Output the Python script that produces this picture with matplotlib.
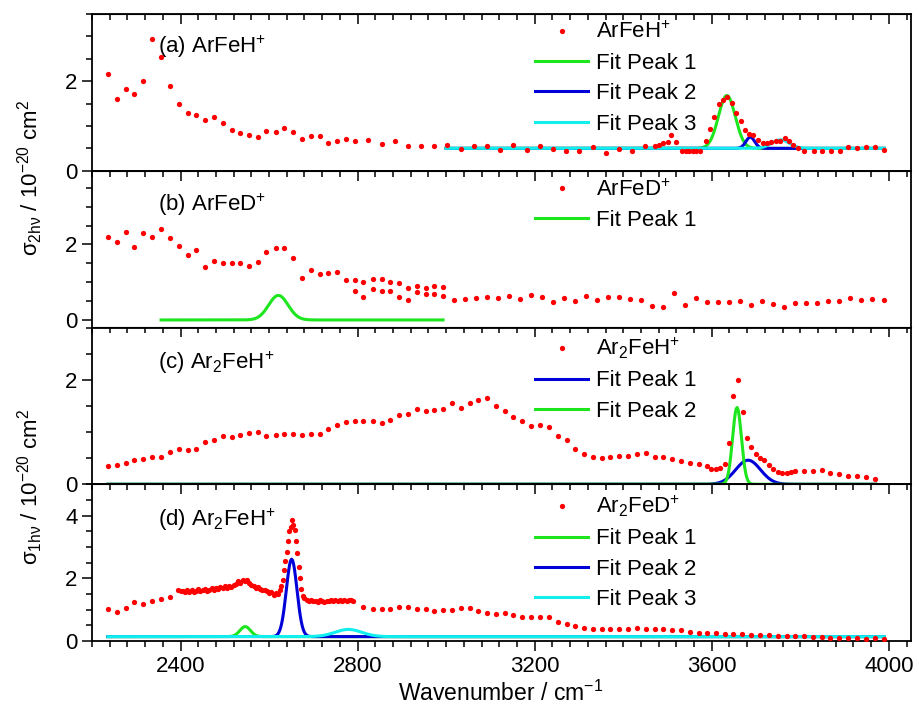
import numpy as np
import matplotlib
matplotlib.use('Agg')
import matplotlib.pyplot as plt
from matplotlib.ticker import MultipleLocator

plt.rcParams['font.family'] = ['Liberation Sans', 'DejaVu Sans']
plt.rcParams['mathtext.fontset'] = 'custom'
plt.rcParams['mathtext.rm'] = 'Liberation Sans'
plt.rcParams['mathtext.it'] = 'Liberation Sans:italic'
plt.rcParams['font.size'] = 16

RED = '#ff0000'
GREEN = '#1ee61e'
BLUE = '#0000d8'
CYAN = '#11eeee'

# (a) ArFeH+  two-photon cross section
a_wn = [2236, 2257, 2277, 2296, 2316, 2336, 2356, 2376, 2396, 2417, 2436, 2456,
        2475, 2495, 2516, 2535, 2555, 2575, 2594, 2615, 2634, 2654, 2675, 2694,
        2714, 2734, 2754, 2774, 2794, 2824, 2854, 2884, 2914, 2944, 2973, 3003,
        3033, 3063, 3093, 3122, 3152, 3182, 3212, 3242, 3271, 3301, 3331, 3361,
        3390, 3420, 3450, 3471, 3481, 3490, 3500, 3509, 3520, 3533, 3541, 3549,
        3557, 3565, 3573, 3586, 3595, 3605, 3616, 3625, 3635, 3646, 3655, 3665,
        3676, 3685, 3694, 3704, 3715, 3724, 3734, 3745, 3754, 3766, 3775, 3784,
        3794, 3809, 3830, 3848, 3869, 3889, 3908, 3929, 3948, 3968, 3988]
a_sig = [2.15, 1.60, 1.83, 1.71, 2.00, 2.94, 2.55, 1.90, 1.48, 1.30, 1.25, 1.14,
         1.21, 1.07, 0.92, 0.84, 0.79, 0.76, 0.88, 0.86, 0.96, 0.86, 0.70, 0.78,
         0.77, 0.61, 0.67, 0.72, 0.67, 0.68, 0.60, 0.67, 0.56, 0.56, 0.55, 0.58,
         0.49, 0.56, 0.56, 0.47, 0.58, 0.46, 0.55, 0.49, 0.43, 0.43, 0.52, 0.40,
         0.49, 0.45, 0.55, 0.55, 0.58, 0.61, 0.65, 0.79, 0.64, 0.44, 0.43, 0.43,
         0.43, 0.44, 0.45, 0.67, 0.94, 1.20, 1.50, 1.59, 1.65, 1.52, 1.30, 1.10,
         0.92, 0.83, 0.79, 0.68, 0.62, 0.63, 0.65, 0.66, 0.66, 0.73, 0.66, 0.58,
         0.50, 0.45, 0.45, 0.43, 0.45, 0.43, 0.52, 0.51, 0.52, 0.52, 0.46]

# (b) ArFeD+
b_wn = [2236, 2257, 2277, 2296, 2316, 2336, 2356, 2376, 2396, 2417, 2436, 2456,
        2475, 2495, 2516, 2535, 2555, 2575, 2594, 2615, 2634, 2654, 2675, 2694,
        2714, 2734, 2754, 2774, 2794, 2794, 2813, 2813, 2834, 2834, 2854, 2854,
        2873, 2873, 2894, 2894, 2914, 2914, 2934, 2934, 2954, 2954, 2973, 2973,
        2993, 2993, 3017, 3042, 3068, 3093, 3117, 3142, 3167, 3192, 3217, 3242,
        3267, 3291, 3316, 3341, 3366, 3391, 3416, 3441, 3466, 3490, 3515, 3540,
        3565, 3589, 3614, 3639, 3664, 3688, 3713, 3738, 3763, 3788, 3813, 3838,
        3862, 3887, 3913, 3937, 3962, 3988]
b_sig = [2.20, 2.07, 2.32, 1.93, 2.30, 2.20, 2.40, 2.18, 1.95, 1.73, 1.84, 1.40,
         1.56, 1.50, 1.52, 1.52, 1.43, 1.54, 1.79, 1.90, 1.90, 1.64, 1.12, 1.31,
         1.21, 1.24, 1.26, 1.07, 1.05, 0.76, 1.01, 0.61, 1.08, 0.81, 1.08, 0.77,
         1.01, 0.77, 0.98, 0.61, 0.84, 0.54, 0.91, 0.74, 0.84, 0.68, 0.89, 0.68,
         0.86, 0.63, 0.52, 0.56, 0.59, 0.60, 0.59, 0.63, 0.56, 0.67, 0.60, 0.47,
         0.57, 0.51, 0.63, 0.54, 0.61, 0.60, 0.55, 0.52, 0.37, 0.35, 0.72, 0.39,
         0.57, 0.48, 0.48, 0.47, 0.49, 0.40, 0.49, 0.43, 0.34, 0.46, 0.44, 0.46,
         0.49, 0.49, 0.57, 0.53, 0.56, 0.52]

# (c) Ar2FeH+  one-photon cross section
c_wn = [2236, 2257, 2277, 2296, 2316, 2336, 2356, 2376, 2396, 2417, 2436, 2456,
        2475, 2495, 2516, 2535, 2555, 2575, 2594, 2615, 2634, 2654, 2675, 2694,
        2714, 2734, 2754, 2774, 2794, 2813, 2834, 2854, 2873, 2894, 2914, 2934,
        2954, 2973, 2993, 3013, 3033, 3053, 3073, 3093, 3113, 3132, 3152, 3172,
        3192, 3212, 3232, 3252, 3272, 3291, 3312, 3331, 3351, 3371, 3391, 3411,
        3431, 3451, 3471, 3490, 3510, 3530, 3550, 3570, 3589, 3599, 3610, 3619,
        3629, 3639, 3649, 3659, 3670, 3679, 3689, 3699, 3709, 3719, 3729, 3739,
        3749, 3759, 3769, 3779, 3789, 3809, 3829, 3848, 3868, 3888, 3908, 3928,
        3948, 3968]
c_sig = [0.35, 0.36, 0.40, 0.46, 0.49, 0.53, 0.53, 0.61, 0.68, 0.65, 0.67, 0.81,
         0.84, 0.93, 0.90, 0.95, 0.99, 1.00, 0.93, 0.95, 0.96, 0.97, 0.95, 0.96,
         0.97, 1.05, 1.14, 1.19, 1.22, 1.21, 1.21, 1.17, 1.23, 1.32, 1.34, 1.44,
         1.41, 1.43, 1.44, 1.55, 1.46, 1.56, 1.62, 1.65, 1.50, 1.41, 1.28, 1.21,
         1.12, 1.14, 1.09, 0.93, 0.85, 0.67, 0.58, 0.53, 0.51, 0.53, 0.55, 0.55,
         0.57, 0.60, 0.53, 0.52, 0.49, 0.44, 0.41, 0.39, 0.34, 0.30, 0.29, 0.31,
         0.38, 0.78, 1.68, 2.00, 1.39, 0.89, 0.72, 0.57, 0.51, 0.46, 0.37, 0.30,
         0.24, 0.22, 0.22, 0.23, 0.25, 0.25, 0.25, 0.28, 0.21, 0.19, 0.16, 0.15,
         0.14, 0.11]

# (d) Ar2FeD+
d_wn = [2236, 2257, 2277, 2296, 2316, 2336, 2356, 2376,
        2395, 2400, 2405, 2410, 2415, 2420, 2425, 2430, 2435, 2440, 2445, 2450,
        2455, 2460, 2465, 2470, 2475, 2480, 2485, 2490, 2495, 2500, 2505, 2510,
        2515, 2520, 2525, 2530, 2535, 2540, 2545, 2550, 2555, 2560, 2565, 2570,
        2575, 2580, 2585, 2590, 2595, 2600, 2605, 2610, 2615, 2620, 2625, 2628,
        2631, 2634, 2637, 2640, 2643, 2646, 2649, 2652, 2655, 2658, 2661, 2664,
        2667, 2670, 2673, 2676, 2680, 2685, 2690, 2695, 2700, 2705, 2710, 2715,
        2720, 2725, 2730, 2735, 2740, 2745, 2750, 2755, 2760, 2765, 2770, 2775,
        2780, 2785, 2790,
        2813, 2834, 2854, 2873, 2894, 2914, 2934, 2954, 2973, 2993, 3013, 3033,
        3053, 3073, 3093, 3113, 3132, 3152, 3172, 3192, 3212, 3232, 3252, 3272,
        3291, 3312, 3331, 3351, 3371, 3391, 3411, 3431, 3451, 3471, 3490, 3510,
        3530, 3550, 3570, 3589, 3610, 3629, 3649, 3669, 3689, 3709, 3729, 3749,
        3769, 3789, 3809, 3829, 3848, 3868, 3888, 3908, 3928, 3948, 3968, 3988]
d_sig = [1.02, 0.93, 1.06, 1.25, 1.19, 1.29, 1.33, 1.40,
         1.62, 1.58, 1.60, 1.56, 1.62, 1.57, 1.63, 1.55, 1.60, 1.65, 1.58, 1.62,
         1.67, 1.60, 1.64, 1.68, 1.62, 1.70, 1.66, 1.72, 1.68, 1.74, 1.70, 1.76,
         1.72, 1.78, 1.82, 1.92, 1.86, 1.94, 1.90, 1.93, 1.84, 1.80, 1.76, 1.70,
         1.72, 1.66, 1.62, 1.64, 1.58, 1.52, 1.56, 1.46, 1.52, 1.50, 1.62, 1.75,
         1.95, 2.25, 2.55, 2.85, 3.20, 3.50, 3.65, 3.85, 3.70, 3.55, 3.20, 2.80,
         2.35, 2.00, 1.65, 1.45, 1.38, 1.32, 1.28, 1.30, 1.26, 1.29, 1.25, 1.30,
         1.27, 1.24, 1.29, 1.26, 1.30, 1.28, 1.32, 1.27, 1.30, 1.28, 1.31, 1.27,
         1.30, 1.32, 1.29,
         1.10, 1.03, 1.01, 1.03, 1.08, 1.08, 1.03, 1.01, 0.96, 0.98, 1.00, 1.06,
         1.06, 0.96, 0.90, 0.85, 0.89, 0.82, 0.78, 0.78, 0.78, 0.75, 0.60, 0.53,
         0.49, 0.43, 0.38, 0.38, 0.38, 0.38, 0.38, 0.42, 0.38, 0.38, 0.37, 0.35,
         0.34, 0.30, 0.25, 0.27, 0.25, 0.22, 0.22, 0.21, 0.20, 0.19, 0.18, 0.17,
         0.17, 0.17, 0.16, 0.14, 0.14, 0.11, 0.10, 0.11, 0.09, 0.07, 0.09, 0.07]

# Gaussian fit components: (centre, amplitude, sigma) on a constant offset
a_fit_range = (3000, 3990)
a_offset = 0.50
a_peaks = [(3634, 1.18, 19), (3687, 0.25, 10), (3755, 0.19, 20)]

b_fit_range = (2356, 2993)
b_offset = 0.0
b_peaks = [(2621, 0.65, 22)]

c_fit_range = (2236, 3970)
c_offset = 0.0
c_peaks = [(3682, 0.46, 28), (3657, 1.47, 10)]

d_fit_range = (2236, 3990)
d_offset = 0.14
d_peaks = [(2546, 0.32, 12), (2651, 2.47, 12), (2779, 0.23, 30)]

panels = [
    dict(wn=a_wn, sig=a_sig, rng=a_fit_range, off=a_offset, peaks=a_peaks,
         colors=[GREEN, BLUE, CYAN], ylim=(0, 3.5),
         name='ArFeH$^{+}$', tag='(a) ArFeH$^{+}$', legend_top=22, tag_y=47),
    dict(wn=b_wn, sig=b_sig, rng=b_fit_range, off=b_offset, peaks=b_peaks,
         colors=[GREEN], ylim=(-0.2, 3.95),
         name='ArFeD$^{+}$', tag='(b) ArFeD$^{+}$', legend_top=179, tag_y=205),
    dict(wn=c_wn, sig=c_sig, rng=c_fit_range, off=c_offset, peaks=c_peaks,
         colors=[BLUE, GREEN], ylim=(0, 3.0),
         name='Ar$_{2}$FeH$^{+}$', tag='(c) Ar$_{2}$FeH$^{+}$', legend_top=336, tag_y=363),
    dict(wn=d_wn, sig=d_sig, rng=d_fit_range, off=d_offset, peaks=d_peaks,
         colors=[GREEN, BLUE, CYAN], ylim=(0, 5.0),
         name='Ar$_{2}$FeD$^{+}$', tag='(d) Ar$_{2}$FeH$^{+}$', legend_top=494, tag_y=520),
]

W, H = 919, 714
fig = plt.figure(figsize=(W / 100, H / 100), dpi=100)
gs = fig.add_gridspec(4, 1, left=92 / W, right=911 / W, top=1 - 14 / H,
                      bottom=1 - 641 / H, hspace=0)

axes = []
for i, p in enumerate(panels):
    ax = fig.add_subplot(gs[i], sharex=axes[0] if axes else None)
    axes.append(ax)

    ax.plot(p['wn'], p['sig'], ls='none', marker='o', ms=3.8, mec='none',
            color=RED, label=p['name'], zorder=3)
    x = np.linspace(p['rng'][0], p['rng'][1], 800)
    for k, ((x0, amp, s), col) in enumerate(zip(p['peaks'], p['colors'])):
        y = p['off'] + amp * np.exp(-0.5 * ((x - x0) / s) ** 2)
        ax.plot(x, y, color=col, lw=2.2, label=f'Fit Peak {k + 1}', zorder=2)

    ax.set_ylim(*p['ylim'])
    ax.yaxis.set_major_locator(MultipleLocator(2))
    ax.yaxis.set_minor_locator(MultipleLocator(0.5))
    ax.tick_params(axis='y', which='both', direction='out', left=True, right=False,
                   width=1.1, labelsize=16)
    ax.tick_params(axis='y', which='major', length=7)
    ax.tick_params(axis='y', which='minor', length=4)

    ax.xaxis.set_major_locator(MultipleLocator(400))
    ax.xaxis.set_minor_locator(MultipleLocator(40))
    ax.tick_params(axis='x', which='both', direction='out', bottom=True, top=False,
                   width=1.1, labelsize=16, labelbottom=(i == 3))
    ax.tick_params(axis='x', which='major', length=7)
    ax.tick_params(axis='x', which='minor', length=4)

    # inward ticks along the top edge
    top = ax.secondary_xaxis('top')
    top.xaxis.set_major_locator(MultipleLocator(400))
    top.xaxis.set_minor_locator(MultipleLocator(40))
    top.tick_params(axis='x', which='both', direction='in', width=1.1, labeltop=False)
    top.tick_params(axis='x', which='major', length=7)
    top.tick_params(axis='x', which='minor', length=4)

    for sp in ax.spines.values():
        sp.set_linewidth(1.3)

    ax.legend(loc='upper left', bbox_to_anchor=(535 / W, 1 - p['legend_top'] / H),
              bbox_transform=fig.transFigure, frameon=False, fontsize=16,
              borderpad=0, borderaxespad=0, handlelength=2.4, handletextpad=0.35,
              labelspacing=0.42, numpoints=1, markerscale=1.0)
    fig.text(158 / W, 1 - p['tag_y'] / H, p['tag'], fontsize=16, va='center',
             ha='left')

axes[0].set_xlim(2200, 4050)

fig.text(30 / W, 1 - 178 / H, r'σ$_{\mathregular{2hν}}$ / 10$^{\mathregular{-20}}$ cm$^{\mathregular{2}}$',
         rotation=90, ha='center', va='center', fontsize=16)
fig.text(30 / W, 1 - 487 / H, r'σ$_{\mathregular{1hν}}$ / 10$^{\mathregular{-20}}$ cm$^{\mathregular{2}}$',
         rotation=90, ha='center', va='center', fontsize=16)
fig.text(501 / W, 1 - 693 / H, r'Wavenumber / cm$^{\mathregular{-1}}$',
         ha='center', va='center', fontsize=16.5)

fig.savefig('out.png', dpi=100)
